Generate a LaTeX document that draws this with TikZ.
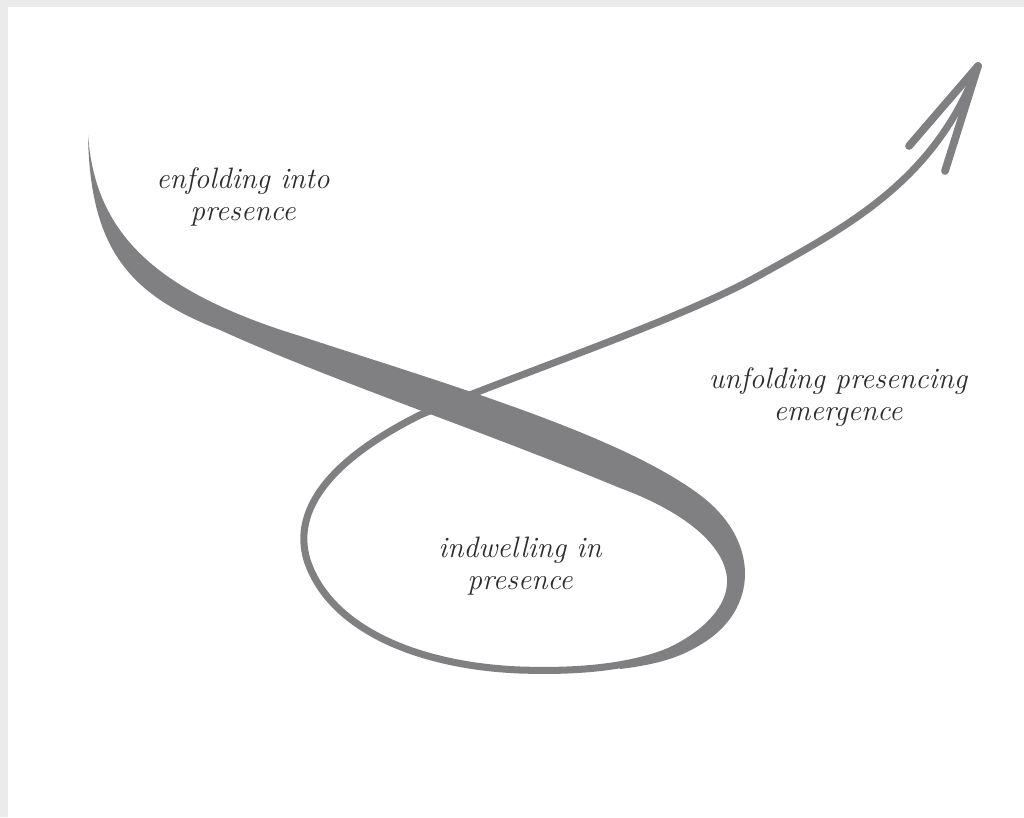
\documentclass[tikz,border=0pt]{standalone}
\usetikzlibrary{arrows.meta}
\definecolor{bandgray}{RGB}{128,127,129}
\definecolor{inkgray}{RGB}{45,45,45}

\begin{document}
\begin{tikzpicture}[x=0.025cm, y=-0.025cm,
  band/.style={fill=bandgray},
  loopline/.style={draw=bandgray, line width=5pt, line cap=round},
  barb/.style={draw=bandgray, line width=5.5pt, line cap=round},
  phrase/.style={text=inkgray, font=\itshape\fontsize{21}{23}\selectfont, align=center}]
  \useasboundingbox (0,0) rectangle (1024,817);
  \fill[black!8] (0,0) rectangle (1024,817);
  \fill[white] (8,7) rectangle (1024,817);
  \fill[band] (88,135) .. controls (95,230) and (150,290) .. (300,336)
    .. controls (450,385) and (620,435) .. (700,495)
    .. controls (760,540) and (760,610) .. (700,645)
    .. controls (680,657) and (660,664) .. (620,669)
    -- (620,663) .. controls (670,655) and (730,620) .. (727,578)
    .. controls (724,545) and (685,512) .. (620,488)
    .. controls (480,430) and (330,380) .. (220,330)
    .. controls (130,295) and (90,250) .. (88,135) -- cycle;
  \draw[loopline] (700,636) .. controls (650,668) and (580,672) .. (520,670)
    .. controls (420,666) and (330,630) .. (307,560)
    .. controls (292,510) and (330,460) .. (420,415)
    .. controls (520,373) and (680,320) .. (760,275)
    .. controls (850,225) and (935,180) .. (978,66);
  \coordinate (tip) at (978,66);
  \coordinate (barbl) at (909,146);
  \coordinate (barbr) at (945,171);
  \draw[barb] (tip) -- (barbl);
  \draw[barb] (tip) -- (barbr);
  \node[phrase] (enfold) at (243,197) {enfolding into\\presence};
  \node[phrase] (unfold) at (838,397) {unfolding presencing\\emergence};
  \node[phrase] (indwell) at (520,566) {indwelling in\\presence};
\end{tikzpicture}
\end{document}
